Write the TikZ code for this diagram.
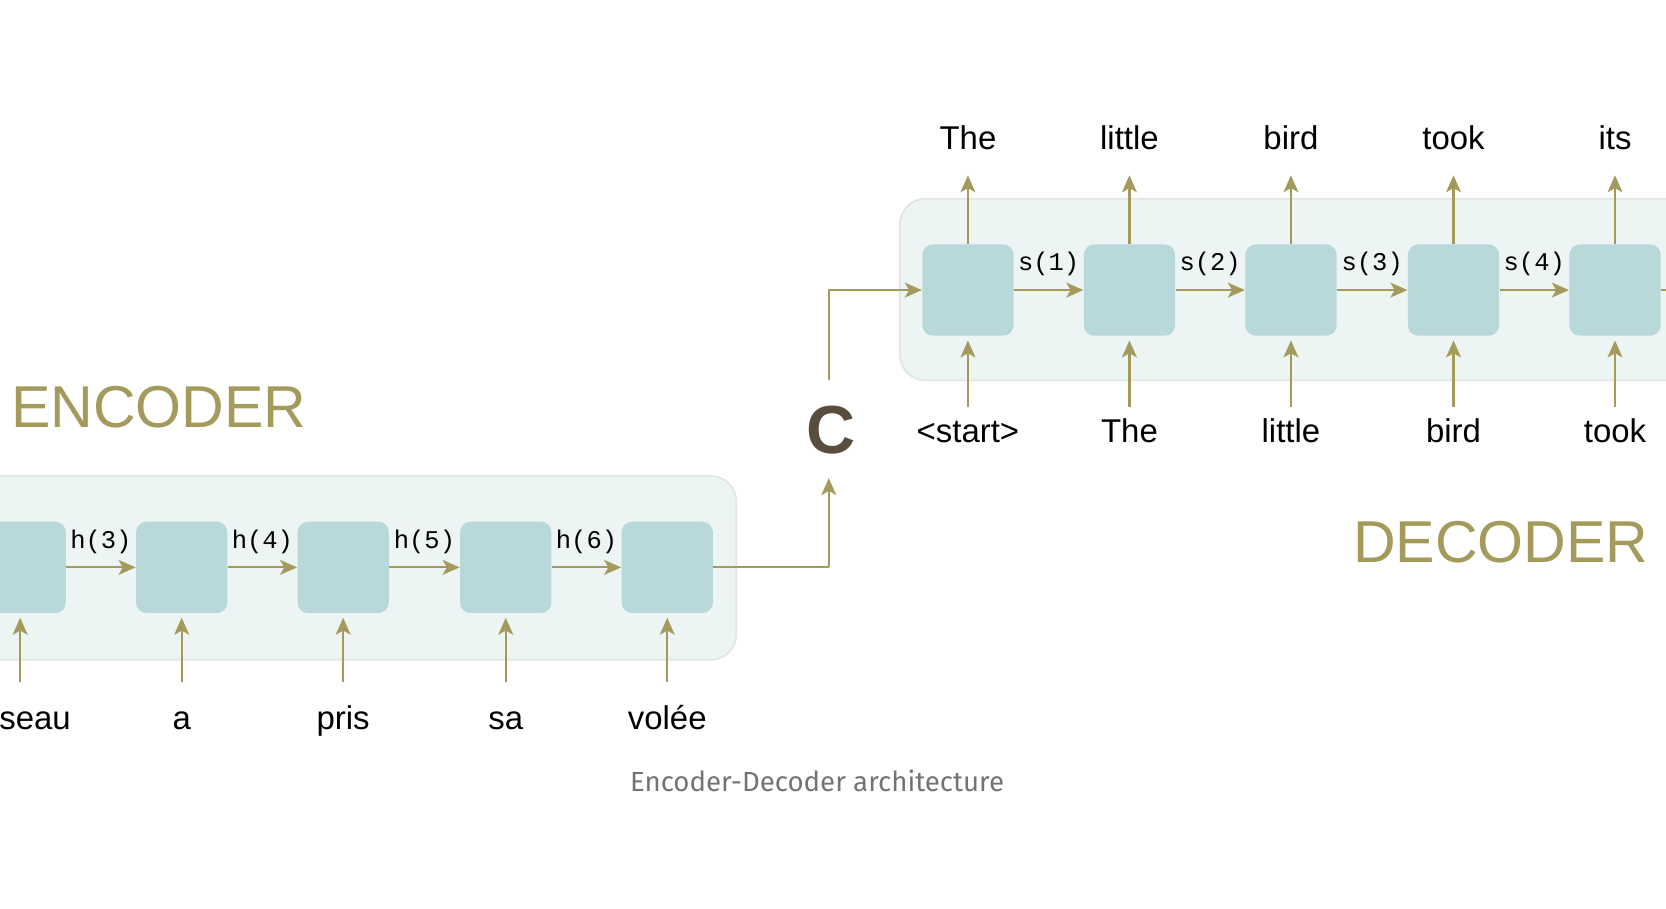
\documentclass[tikz,border=0pt]{standalone}
\usepackage{fontspec}
\setmainfont{Liberation Sans}
\newfontfamily\mono{Liberation Mono}
\newfontfamily\capf{Fira Sans}
\usetikzlibrary{arrows.meta}
\definecolor{olive}{HTML}{A39A5B}
\definecolor{cellc}{HTML}{B9D8D9}
\definecolor{bgc}{HTML}{EDF5F4}
\definecolor{bgline}{HTML}{E1E6DE}
\definecolor{cbrown}{HTML}{5A4C3E}
\begin{document}
\begin{tikzpicture}[x=0.5pt,y=-0.5pt,
  cell/.style={fill=cellc,draw=none,rounded corners=5pt,minimum width=43pt,minimum height=43pt,inner sep=0},
  arr/.style={draw=olive,line width=1pt,-{Stealth[length=8pt,width=7pt,inset=2pt]}},
  ln/.style={draw=olive,line width=1pt},
  word/.style={font=\fontsize{15.5}{18}\selectfont,inner sep=0,anchor=base},
  st/.style={font=\mono\fontsize{12}{14}\selectfont,inner sep=0},
  big/.style={font=\fontsize{27.8}{34}\selectfont,text=olive,inner sep=0}]
\useasboundingbox (0,0) rectangle (1568,855);
\begin{scope}
\clip (0,0) rectangle (1568,855);
% backgrounds
\draw[fill=bgc,draw=bgline,line width=0.8pt,rounded corners=12pt] (847,187) rectangle (1620,358);
\draw[fill=bgc,draw=bgline,line width=0.8pt,rounded corners=12pt] (-60,448) rectangle (693,621);
% decoder
\foreach \i/\x/\o/\n in {1/911/The/<start>,2/1063/little/The,3/1215/bird/little,4/1368/took/bird,5/1520/its/took}{
  \node[cell] (d\i) at (\x,273) {};
  \node[word] (o\i) at (\x,141) {\o};
  \node[word] (n\i) at (\x,416) {\n};
  \coordinate (ot\i) at (\x,165);
  \coordinate (nb\i) at (\x,383);
  \draw[arr] (d\i.north) -- (ot\i);
  \draw[arr] (nb\i) -- ([yshift=-2pt]d\i.south);
}
\foreach \a/\b/\l in {1/2/1,2/3/2,3/4/3,4/5/4}{
  \draw[arr] (d\a.east) -- (d\b.west) node[st,midway,above=6pt] {s(\l)};
}
\coordinate (dout) at (1600,273);
\draw[arr] (d5.east) -- (dout);
% encoder
\foreach \i/\x in {2/19,3/171,4/323,5/476,6/628}{
  \node[cell] (e\i) at (\x,534) {};
  \coordinate (eb\i) at (\x,642);
  \draw[arr] (eb\i) -- ([yshift=-2pt]e\i.south);
}
\node[word,anchor=base east] (w2) at (67,687) {seau};
\node[word] (w3) at (171,687) {a};
\node[word] (w4) at (323,687) {pris};
\node[word] (w5) at (476,687) {sa};
\node[word] (w6) at (628,687) {volée};
\foreach \a/\b in {2/3,3/4,4/5,5/6}{
  \draw[arr] (e\a.east) -- (e\b.west) node[st,midway,above=6pt] {h(\b)};
}
% context
\node[font=\bfseries\fontsize{32}{36}\selectfont,text=cbrown,inner sep=0] (c) at (782,405) {C};
\coordinate (cb) at (780,534);
\coordinate (cs) at (780,450);
\coordinate (ct) at (780,358);
\coordinate (ck) at (780,273);
\draw[ln] (e6.east) -- (cb);
\draw[arr] (cb) -- (cs);
\draw[arr] (ct) -- (ck) -- (d1.west);
% titles
\node[big,anchor=west] (enc) at (10,383) {ENCODER};
\node[big,anchor=east] (dec) at (1552,510) {DECODER};
\node[font=\capf\fontsize{13}{16}\selectfont,text=black!55,inner sep=0] (cap) at (769,735) {Encoder-Decoder architecture};
\end{scope}
\end{tikzpicture}
\end{document}
